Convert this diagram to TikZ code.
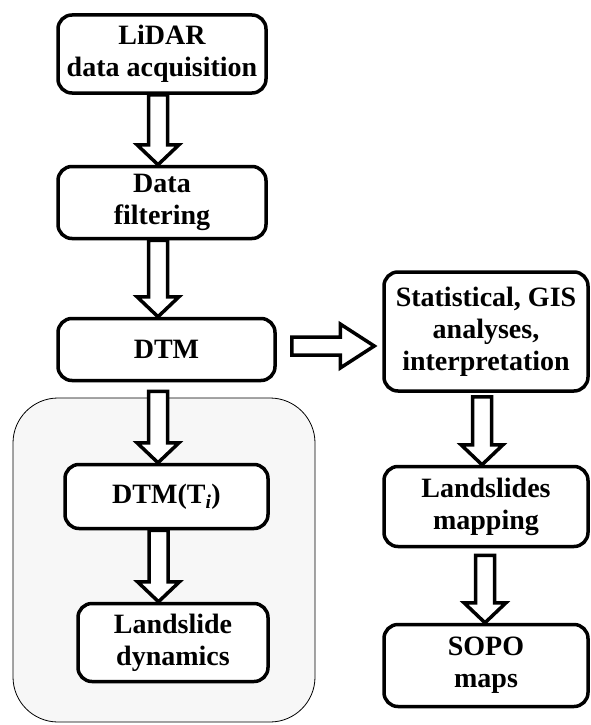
\documentclass[tikz,border=0pt]{standalone}
\usepackage{fontspec}
\setmainfont{Liberation Serif}
\usetikzlibrary{calc}

\tikzset{
  stage/.style={draw, line width=3.5pt, rounded corners=14pt, fill=white,
    align=center, inner sep=0pt, font=\fontsize{28}{32}\selectfont\bfseries},
  blockarrow/.style={draw, line width=3.5pt, fill=white, line join=miter},
  container/.style={draw, line width=0.8pt, fill=black!3, rounded corners=45pt}
}

% hollow arrow pointing down, #1 = start of shaft, #2 = tip
\newcommand{\downblock}[2]{%
  \draw[blockarrow] let \p1=#1, \p2=#2 in
    (\x1-9.5pt,\y1) -- (\x1-9.5pt,\y2+20pt) -- (\x1-21pt,\y2+20pt) -- (\x1,\y2)
    -- (\x1+21pt,\y2+20pt) -- (\x1+9.5pt,\y2+20pt) -- (\x1+9.5pt,\y1) -- cycle;}
% hollow arrow pointing right
\newcommand{\rightblock}[2]{%
  \draw[blockarrow] let \p1=#1, \p2=#2 in
    (\x1,\y1+9pt) -- (\x2-34pt,\y1+9pt) -- (\x2-34pt,\y1+22pt) -- (\x2,\y1)
    -- (\x2-34pt,\y1-22pt) -- (\x2-34pt,\y1-9pt) -- (\x1,\y1-9pt) -- cycle;}

\begin{document}
\begin{tikzpicture}[x=1pt,y=-1pt]
    \useasboundingbox (0,0) rectangle (590,725);
    \draw[container] (13,398) rectangle (315,722);

    \node[stage,minimum width=208,minimum height=78] (lidar) at (162,54) {LiDAR\\data acquisition};
    \node[stage,minimum width=208,minimum height=72] (filter) at (162,202.5) {Data\\filtering};
    \node[stage,minimum width=217,minimum height=62] (dtm) at (166.5,349.5) {DTM};
    \node[stage,minimum width=203,minimum height=64] (dtmt) at (166.5,496.5) {DTM(T\textsubscript{\textit{i}})};
    \node[stage,minimum width=190,minimum height=78] (dyn) at (173,642.5) {Landslide\\dynamics};

    \node[stage,minimum width=204,minimum height=119] (stat) at (486,331.5) {Statistical, GIS\\analyses,\\interpretation};
    \node[stage,minimum width=204,minimum height=80] (map) at (486,506.5) {Landslides\\mapping};
    \node[stage,minimum width=204,minimum height=82] (sopo) at (486,665.5) {SOPO\\maps};

    \downblock{($(lidar.south)+(-4,0)$)}{(filter.north)}
    \downblock{($(filter.south)+(-4,0)$)}{(dtm.north)}
    \downblock{($(dtm.south)+(-8.5,9)$)}{(dtmt.north)}
    \downblock{($(dtmt.south)+(-8,0)$)}{(dyn.north)}
    \rightblock{($(dtm.east)+(15,-3.5)$)}{($(stat.west)+(-8,0)$)}
    \downblock{($(stat.south)+(-4,4)$)}{(map.north)}
    \downblock{($(map.south)+(-1,7)$)}{(sopo.north)}
\end{tikzpicture}
\end{document}
